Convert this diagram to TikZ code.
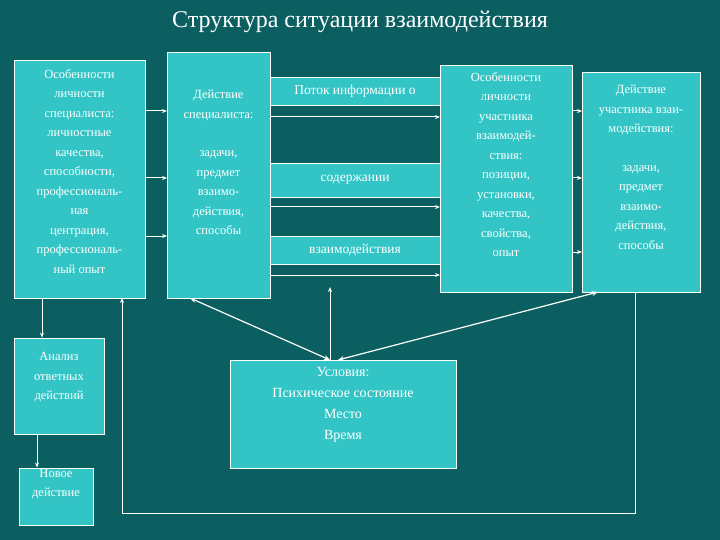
\documentclass[tikz,border=0pt]{standalone}
\usepackage{fontspec}
\setmainfont{Liberation Serif}
\usetikzlibrary{arrows.meta}
\definecolor{bg}{HTML}{0B5F60}
\definecolor{boxc}{HTML}{33C5C6}
\begin{document}
\begin{tikzpicture}[x=1pt,y=-1pt,
  box/.style={draw=white,fill=boxc,line width=0.8pt,text=white,align=center,inner sep=1pt,font=\fontsize{12.5}{19.5}\selectfont},
  strip/.style={draw=white,fill=boxc,line width=0.8pt,text=white,inner sep=0pt,font=\fontsize{13.5}{14}\selectfont},
  conn/.style={draw=white,line width=1pt,-{Stealth[length=5pt,width=4pt]}},
  dconn/.style={draw=white,line width=1.2pt,{Stealth[length=6pt,width=5pt]}-{Stealth[length=6pt,width=5pt]}},
  line/.style={draw=white,line width=1pt}]
\fill[bg] (0,0) rectangle (720,540);
\node[text=white,font=\fontsize{24}{26}\selectfont] (title) at (360,22) {Структура ситуации взаимодействия};
\node[box,minimum width=131,minimum height=238] (b1) at (79.5,179) {Особенности\\личности\\специалиста:\\личностные\\качества,\\способности,\\профессиональ-\\ная\\центрация,\\профессиональ-\\ный опыт\\[-4pt]};
\node[box,minimum width=103,minimum height=246] (b2) at (218.5,175) {Действие\\специалиста:\\[19pt]задачи,\\предмет\\взаимо-\\действия,\\способы\\[6pt]};
\node[strip,minimum width=170,minimum height=28] (s1) at (355,91) {Поток информации о};
\node[strip,minimum width=170,minimum height=34] (s2) at (355,180) {содержании};
\node[strip,minimum width=170,minimum height=28] (s3) at (355,250) {взаимодействия};
\node[box,minimum width=132,minimum height=227] (b3) at (506,178.5) {Особенности\\личности\\участника\\взаимодей-\\ствия:\\позиции,\\установки,\\качества,\\свойства,\\опыт\\[8pt]};
\node[box,minimum width=118,minimum height=220] (b4) at (641,182) {Действие\\участника взаи-\\модействия:\\[19pt]задачи,\\предмет\\взаимо-\\действия,\\способы\\[10pt]};
\node[box,minimum width=90,minimum height=96] (an) at (59,386) {Анализ\\ответных\\действий\\[0pt]};
\node[box,minimum width=74,minimum height=57] (nw) at (56,496.5) {Новое\\действие\\[8pt]};
\node[box,minimum width=226,minimum height=108,font=\fontsize{14}{21}\selectfont] (cd) at (343,414) {Условия:\\Психическое состояние\\Место\\Время\\[0pt]};
\foreach \yy in {111,178,236} \draw[conn] (145,\yy) -- (167,\yy);
\foreach \yy in {117,207,275} \draw[conn] (270,\yy) -- (440,\yy);
\foreach \yy in {111,178,252} \draw[conn] (572,\yy) -- (582,\yy);
\draw[conn] (b1.south -| an.north) ++(-17,0) coordinate (t1) -- (t1 |- an.north);
\draw[conn] (nw.north -| 37,0) ++(0,-34) coordinate (t2) -- (t2 |- nw.north);
\coordinate (up) at (330,287);
\draw[conn] (cd.north -| up) -- (up);
\draw[dconn] (190,298) -- (330,360);
\draw[dconn] (338,360) -- (598,292);
\coordinate (lb) at (635,513);
\draw[line] (b4.south -| lb) -- (lb) -- (122,513);
\draw[conn] (122,513) -- (122,298);
\end{tikzpicture}
\end{document}
